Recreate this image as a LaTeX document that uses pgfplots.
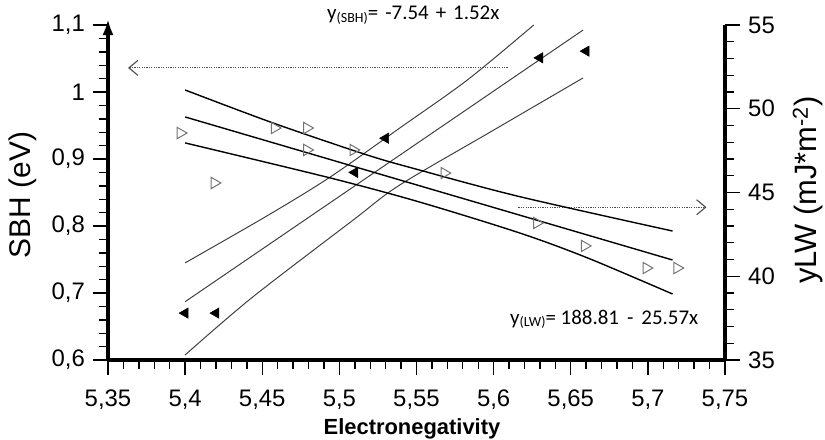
\documentclass[border=0pt]{standalone}
\usepackage{fontspec}
\setmainfont{Liberation Sans}
\newfontfamily\calib{Carlito}
\usepackage{pgfplots}
\pgfplotsset{compat=1.18}
\usetikzlibrary{arrows.meta}

\pgfplotstableread{
x y
5.40 0.670
5.42 0.670
5.51 0.880
5.53 0.931
5.63 1.051
5.66 1.061
}\sbhdata

\pgfplotstableread{
x y
5.397 48.55
5.419 45.57
5.458 48.85
5.479 48.85
5.479 47.54
5.509 47.54
5.568 46.16
5.628 43.18
5.659 41.81
5.699 40.49
5.719 40.49
}\lwdata

\begin{document}
\begin{tikzpicture}
\path[use as bounding box] (-108bp,-80bp) rectangle (717bp,360bp);
\pgfplotsset{
  common/.style={
    scale only axis, width=617bp, height=335bp,
    xmin=5.35, xmax=5.75,
    clip=false,
    tick align=outside,
    major tick length=15bp, minor tick length=9bp,
    major tick style={black, line width=1.4bp},
    minor tick style={black, line width=1.4bp},
    minor tick num=4,
    /pgf/number format/assume math mode=true,
    /pgf/number format/use comma,
    ticklabel style={font=\fontsize{24}{24}\selectfont, inner sep=0pt},
  }
}
\begin{axis}[common,
  ymin=0.6, ymax=1.1,
  axis x line*=bottom, axis y line*=left,
  x axis line style={-, line width=4bp},
  y axis line style={-{Latex[length=16bp,width=11bp]}, line width=4bp, shorten >=-6bp},
  xtick={5.35,5.4,5.45,5.5,5.55,5.6,5.65,5.7,5.75},
  ytick={0.6,0.7,0.8,0.9,1,1.1},
  xticklabel style={anchor=north, yshift=-15bp},
  yticklabel style={anchor=east, xshift=-8bp},
]
% SBH regression and bands
\addplot[black!75, line width=1bp] coordinates {(5.40,0.687)(5.658,1.0925)};
\addplot[black!75, line width=1bp, smooth] coordinates {(5.400,0.745)(5.453,0.815)(5.494,0.873)(5.539,0.946)(5.583,1.018)(5.626,1.100)};
\addplot[black!75, line width=1bp, smooth] coordinates {(5.400,0.6075)(5.443,0.6925)(5.509,0.809)(5.539,0.861)(5.599,0.9418)(5.658,1.021)};
\addplot[only marks, mark=triangle*, mark size=6bp, mark options={rotate=90, fill=black, draw=black, line width=0.5bp}] table[x=x,y=y] {\sbhdata};
% dotted arrows
\addplot[black!70, line width=1.1bp, dash pattern=on 1.2bp off 1.2bp, -{Straight Barb[length=9bp,width=15bp,line width=1.1bp]}] coordinates {(5.609,1.036)(5.363,1.036)};
\addplot[black!70, line width=1.1bp, dash pattern=on 1.2bp off 1.2bp, -{Straight Barb[length=9bp,width=15bp,line width=1.1bp]}] coordinates {(5.616,0.828)(5.738,0.828)};
% equations
\node[anchor=base west, inner sep=0pt, font=\calib\fontsize{21}{21}\selectfont] at (axis cs:5.492,1.1075)
  {y\raisebox{-2.5bp}{\fontsize{14}{14}\selectfont (SBH)}=\hspace{7bp}-7.54\hspace{7bp}+\hspace{7bp}1.52x};
\node[anchor=base west, inner sep=0pt, font=\calib\fontsize{21}{21}\selectfont] at (axis cs:5.6106,0.6537)
  {y\raisebox{-2.5bp}{\fontsize{14}{14}\selectfont (LW)}= 188.81\hspace{8bp}-\hspace{8bp}25.57x};
% axis labels
\node[rotate=90, anchor=center, font=\fontsize{30}{30}\selectfont] at (axis description cs:-0.1378,0.4925) {SBH (eV)};
\node[anchor=center, font=\bfseries\fontsize{22}{22}\selectfont] at (axis description cs:0.4927,-0.205) {Electronegativity};
\node[rotate=90, anchor=center, font=\fontsize{31}{31}\selectfont] at (axis description cs:1.1345,0.507) {yLW (mJ*m\textsuperscript{-2})};
\end{axis}
\begin{axis}[common,
  ymin=35, ymax=55,
  axis x line=none, axis y line*=right,
  y axis line style={-, line width=4bp},
  ytick={35,40,45,50,55},
  yticklabel style={anchor=west, xshift=8bp},
]
\addplot[black, line width=1.4bp] coordinates {(5.40,49.51)(5.716,40.97)};
\addplot[black, line width=1.4bp, smooth] coordinates {(5.400,51.12)(5.457,49.15)(5.518,47.24)(5.552,46.34)(5.617,44.75)(5.716,42.70)};
\addplot[black, line width=1.4bp, smooth] coordinates {(5.400,47.96)(5.494,45.87)(5.552,44.43)(5.617,42.58)(5.661,41.09)(5.716,38.94)};
\addplot[only marks, mark=triangle, mark size=6.5bp, mark options={rotate=-90, draw=black!55, line width=1bp}] table[x=x,y=y] {\lwdata};
\end{axis}
\end{tikzpicture}
\end{document}
